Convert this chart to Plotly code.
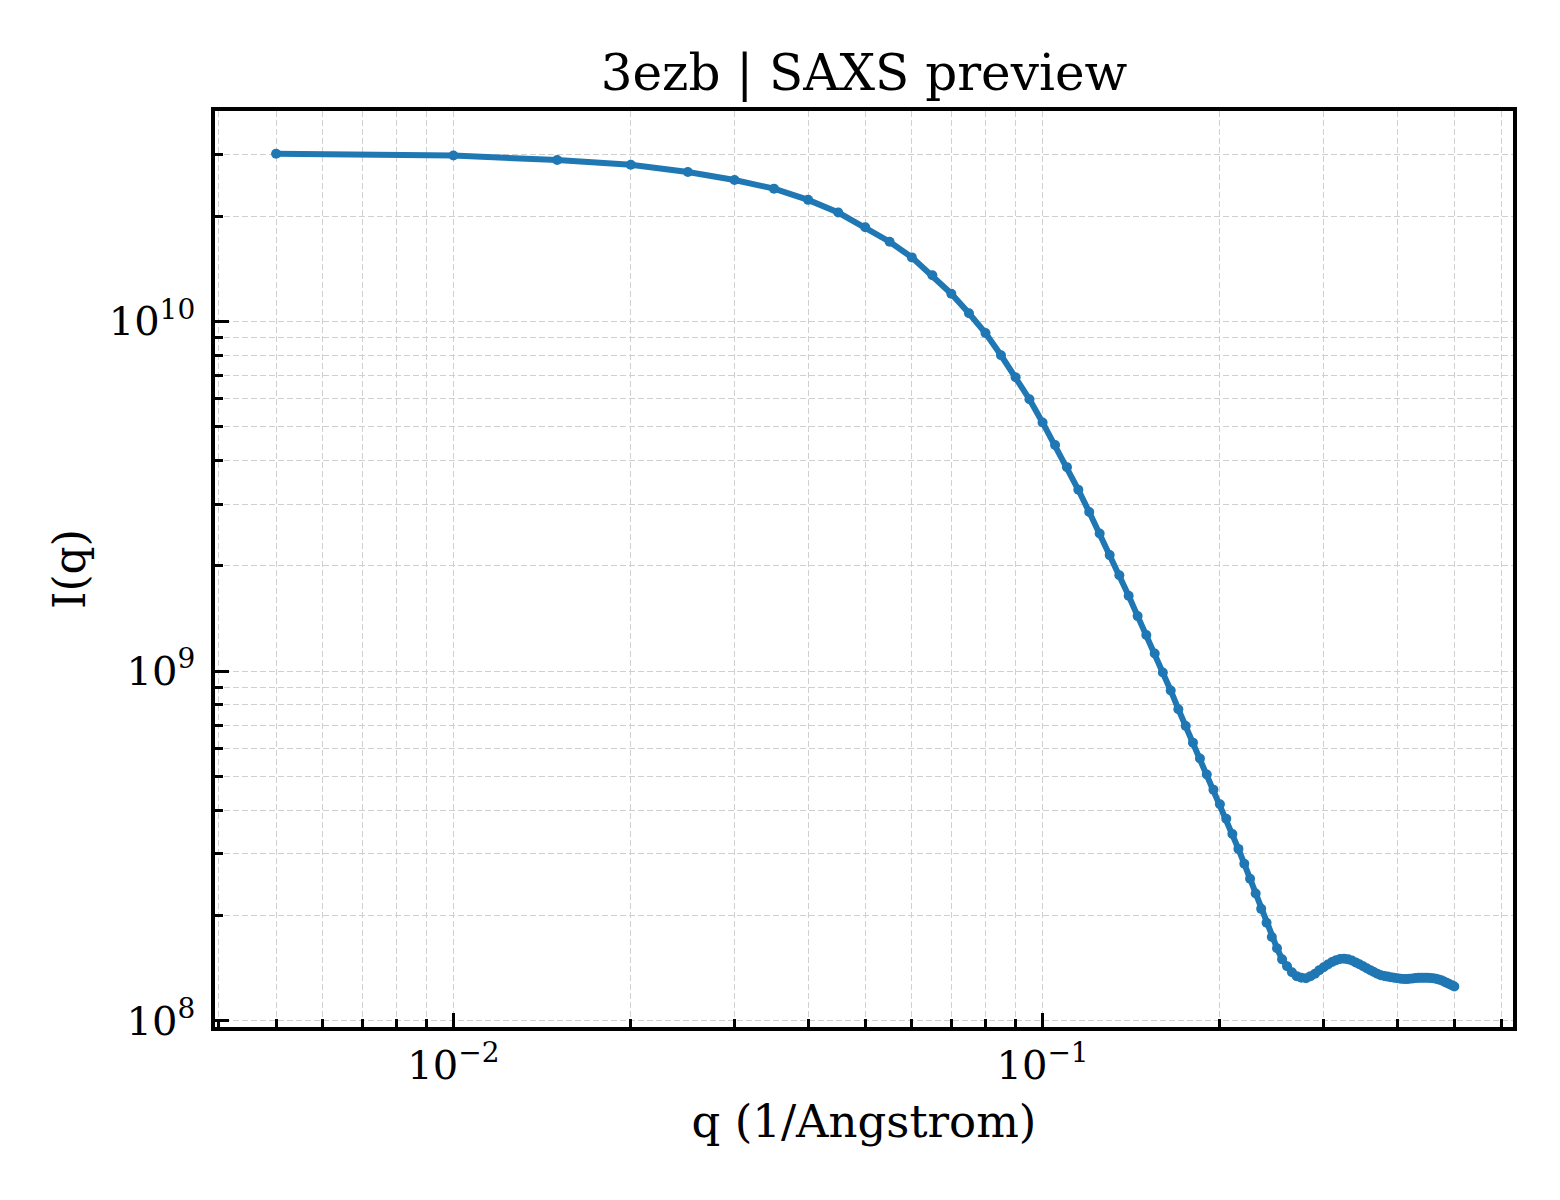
import plotly.graph_objects as go

# SAXS curve for 3ezb
q_values = [
    0.005, 0.010, 0.015, 0.020, 0.025, 0.030, 0.035, 0.040, 0.045, 0.050,
    0.055, 0.060, 0.065, 0.070, 0.075, 0.080, 0.085, 0.090, 0.095, 0.100,
    0.105, 0.110, 0.115, 0.120, 0.125, 0.130, 0.135, 0.140, 0.145, 0.150,
    0.155, 0.160, 0.165, 0.170, 0.175, 0.180, 0.185, 0.190, 0.195, 0.200,
    0.205, 0.210, 0.215, 0.220, 0.225, 0.230, 0.235, 0.240, 0.245, 0.250,
    0.255, 0.260, 0.265, 0.270, 0.275, 0.280, 0.285, 0.290, 0.295, 0.300,
    0.305, 0.310, 0.315, 0.320, 0.325, 0.330, 0.335, 0.340, 0.345, 0.350,
    0.355, 0.360, 0.365, 0.370, 0.375, 0.380, 0.385, 0.390, 0.395, 0.400,
    0.405, 0.410, 0.415, 0.420, 0.425, 0.430, 0.435, 0.440, 0.445, 0.450,
    0.455, 0.460, 0.465, 0.470, 0.475, 0.480, 0.485, 0.490, 0.495, 0.500,
]
intensity = [
    3.015e10, 2.980e10, 2.893e10, 2.805e10, 2.674e10, 2.537e10, 2.397e10, 2.226e10, 2.048e10, 1.859e10,
    1.690e10, 1.524e10, 1.355e10, 1.200e10, 1.055e10, 9.26e9, 8.00e9, 6.92e9, 5.99e9, 5.14e9,
    4.43e9, 3.83e9, 3.30e9, 2.85e9, 2.474e9, 2.146e9, 1.880e9, 1.641e9, 1.436e9, 1.268e9,
    1.122e9, 9.90e8, 8.80e8, 7.78e8, 6.96e8, 6.24e8, 5.62e8, 5.06e8, 4.58e8, 4.16e8,
    3.78e8, 3.42e8, 3.10e8, 2.81e8, 2.548e8, 2.310e8, 2.089e8, 1.906e8, 1.735e8, 1.611e8,
    1.498e8, 1.431e8, 1.376e8, 1.341e8, 1.327e8, 1.323e8, 1.341e8, 1.363e8, 1.395e8, 1.422e8,
    1.448e8, 1.472e8, 1.490e8, 1.502e8, 1.505e8, 1.498e8, 1.486e8, 1.468e8, 1.450e8, 1.431e8,
    1.413e8, 1.395e8, 1.378e8, 1.363e8, 1.350e8, 1.343e8, 1.337e8, 1.331e8, 1.327e8, 1.323e8,
    1.319e8, 1.316e8, 1.315e8, 1.318e8, 1.321e8, 1.324e8, 1.326e8, 1.326e8, 1.326e8, 1.326e8,
    1.325e8, 1.323e8, 1.319e8, 1.312e8, 1.306e8, 1.295e8, 1.285e8, 1.274e8, 1.264e8, 1.253e8,
]

x_ticks = [0.01, 0.1]
x_ticktext = ["10<sup>\u22122</sup>", "10<sup>\u22121</sup>"]
y_ticks = [1e8, 1e9, 1e10]
y_ticktext = ["10<sup>8</sup>", "10<sup>9</sup>", "10<sup>10</sup>"]

x_minor = [k * 10.0 ** e for e in (-3, -2, -1) for k in range(2, 10)]
y_minor = [k * 10.0 ** e for e in (7, 8, 9, 10) for k in range(2, 10)]

FONT = "DejaVu Serif"
GRID = "#d0d0d0"

fig = go.Figure()
fig.add_trace(go.Scatter(
    x=q_values,
    y=intensity,
    mode="lines+markers",
    line=dict(color="#1f77b4", width=6),
    marker=dict(color="#1f77b4", size=10),
    showlegend=False,
))

axis_common = dict(
    type="log",
    showline=True,
    linecolor="black",
    linewidth=3.5,
    mirror=True,
    ticks="inside",
    ticklen=14,
    tickwidth=3,
    tickcolor="black",
    showgrid=True,
    gridcolor=GRID,
    gridwidth=1.2,
    griddash="6px,3px",
    zeroline=False,
    tickfont=dict(family=FONT, size=40, color="black"),
)

fig.update_xaxes(
    **axis_common,
    range=[-2.4047, -0.2015],
    tickvals=x_ticks,
    ticktext=x_ticktext,
    ticklabelstandoff=0,
    minor=dict(tickvals=x_minor, ticks="inside", ticklen=8, tickwidth=2.5,
               tickcolor="black", showgrid=True, gridcolor=GRID,
               gridwidth=1.2, griddash="6px,3px"),
    title=dict(text="q (1/Angstrom)", font=dict(family=FONT, size=45, color="black"), standoff=20),
)
fig.update_yaxes(
    **axis_common,
    range=[7.982, 10.6017],
    tickvals=y_ticks,
    ticktext=y_ticktext,
    ticklabelstandoff=8,
    minor=dict(tickvals=y_minor, ticks="inside", ticklen=8, tickwidth=2.5,
               tickcolor="black", showgrid=True, gridcolor=GRID,
               gridwidth=1.2, griddash="6px,3px"),
    title=dict(text="I(q)", font=dict(family=FONT, size=44, color="black"), standoff=10),
)

fig.update_layout(
    width=1560,
    height=1200,
    autosize=False,
    margin=dict(l=207, r=55, t=103, b=181),
    plot_bgcolor="white",
    paper_bgcolor="white",
    title=dict(
        text="3ezb | SAXS preview",
        font=dict(family=FONT, size=50, color="black"),
        x=0.5, xref="paper", xanchor="center",
        y=1 - 64 / 1200, yref="container", yanchor="middle",
    ),
)

fig.write_html("out.html")
